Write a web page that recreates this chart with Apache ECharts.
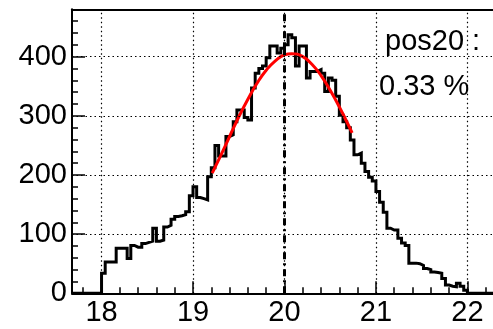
<!DOCTYPE html>
<html><head><meta charset="utf-8">
<script src="https://cdn.jsdelivr.net/npm/echarts@6/dist/echarts.min.js"></script>
<style>html,body{margin:0;padding:0;background:#fff}#c{width:493px;height:329px}</style>
</head><body><div id="c"></div>
<script>
// ---- data ----
const binStart = 18.0;
const binWidth = 0.04;
const counts = [
  34, 53, 53, 53, 76, 76, 76, 59, 81, 78,
  78, 84, 86, 88, 110, 88, 90, 112, 115, 125,
  130, 131, 133, 138, 165, 180, 162, 160, 158, 197,
  212, 250, 232, 232, 265, 268, 290, 310, 310, 297,
  293, 347, 372, 380, 384, 398, 418, 418, 406, 414,
  420, 437, 432, 384, 418, 418, 364, 375, 375, 378,
  372, 341, 364, 360, 333, 301, 290, 280, 259, 234,
  237, 220, 206, 196, 190, 172, 154, 137, 110, 107,
  107, 93, 85, 81, 51, 51, 50, 47, 42, 40,
  36, 35, 34, 25, 14, 12, 11, 17, 12, 5
];
const fitX = [19.21, 19.3, 19.4, 19.5, 19.6, 19.7, 19.8, 19.9, 20.0, 20.08, 20.2, 20.3, 20.4, 20.5, 20.6, 20.7, 20.74];
const fitY = [203, 232, 265, 298, 328, 355, 377, 393, 403, 405, 400, 387, 368, 343, 315, 284, 271];
const xTickLabels = [18, 19, 20, 21, 22];
const yTickLabels = [0, 100, 200, 300, 400];
const markerX = 20.0;
const noteLines = ['pos20 :', '0.33 %'];

// ---- axes ranges ----
const xMin = 17.677, xMax = 22.28;
const yMin = 0, yMax = 480;
const FONT = '"Liberation Sans", Arial, Helvetica, sans-serif';

const minorX = [];
for (let v = 17.8; v < xMax; v += 0.2) minorX.push(+v.toFixed(2));
const minorY = [];
for (let v = 0; v < yMax; v += 20) minorY.push(v);

const histData = [[xMin, 0]];
counts.forEach((c, i) => histData.push([+(binStart + i * binWidth).toFixed(3), c]));
histData.push([+(binStart + counts.length * binWidth).toFixed(3), 0]);
histData.push([xMax, 0]);

const fitData = fitX.map((x, i) => [x, fitY[i]]);

const gridLines = xTickLabels.map(v => ({ xAxis: v }))
  .concat(yTickLabels.filter(v => v > 0).map(v => ({ yAxis: v })));

const chart = echarts.init(document.getElementById('c'), null, { renderer: 'canvas' });
chart.setOption({
  animation: false,
  backgroundColor: '#fff',
  grid: { left: 72, right: -2, top: 9.3, bottom: 35.7, containLabel: false },
  xAxis: [
    {
      type: 'value', min: xMin, max: xMax, position: 'bottom',
      axisLine: { show: true, lineStyle: { color: '#000', width: 2 } },
      axisTick: { show: true, inside: true, length: 12, customValues: xTickLabels, lineStyle: { color: '#000', width: 1.5 } },
      axisLabel: { show: true, customValues: xTickLabels, fontSize: 29, fontFamily: FONT, color: '#000', margin: 5 },
      splitLine: { show: false }
    },
    {
      type: 'value', min: xMin, max: xMax, position: 'bottom',
      axisLine: { show: false },
      axisTick: { show: true, inside: true, length: 6, customValues: minorX, lineStyle: { color: '#000', width: 1.5 } },
      axisLabel: { show: false },
      splitLine: { show: false }
    },
    {
      type: 'value', min: xMin, max: xMax, position: 'top',
      axisLine: { show: true, lineStyle: { color: '#000', width: 2 } },
      axisTick: { show: false }, axisLabel: { show: false }, splitLine: { show: false }
    }
  ],
  yAxis: [
    {
      type: 'value', min: yMin, max: yMax, position: 'left',
      axisLine: { show: true, lineStyle: { color: '#000', width: 2 } },
      axisTick: { show: true, inside: true, length: 13, customValues: yTickLabels, lineStyle: { color: '#000', width: 1.5 } },
      axisLabel: { show: true, customValues: yTickLabels, fontSize: 29, fontFamily: FONT, color: '#000', margin: 5 },
      splitLine: { show: false }
    },
    {
      type: 'value', min: yMin, max: yMax, position: 'left',
      axisLine: { show: false },
      axisTick: { show: true, inside: true, length: 6, customValues: minorY, lineStyle: { color: '#000', width: 1.5 } },
      axisLabel: { show: false }, splitLine: { show: false }
    }
  ],
  series: [
    {
      type: 'line', xAxisIndex: 0, yAxisIndex: 0, z: 1, silent: true,
      data: [[xMin, 0]], showSymbol: false, symbol: 'none', lineStyle: { opacity: 0 },
      markLine: {
        silent: true, symbol: 'none', label: { show: false }, animation: false,
        lineStyle: { color: '#000', width: 1.2, type: [1.5, 3] },
        data: gridLines
      }
    },
    {
      type: 'line', xAxisIndex: 0, yAxisIndex: 0, z: 3, silent: true,
      step: 'end', data: histData, showSymbol: false, symbol: 'none',
      lineStyle: { color: '#000', width: 3, join: 'miter' }
    },
    {
      type: 'line', xAxisIndex: 0, yAxisIndex: 0, z: 4, silent: true,
      data: fitData, smooth: true, showSymbol: false, symbol: 'none',
      lineStyle: { color: '#ff0000', width: 3 }
    },
    {
      type: 'line', xAxisIndex: 0, yAxisIndex: 0, z: 5, silent: true,
      data: [[markerX, 0]], showSymbol: false, symbol: 'none', lineStyle: { opacity: 0 },
      markLine: {
        silent: true, symbol: 'none', label: { show: false }, animation: false,
        lineStyle: { color: '#000', width: 3, type: [7, 4, 2, 4] },
        data: [{ xAxis: markerX }]
      }
    }
  ],
  graphic: [
    { type: 'text', left: 385, top: 27, z: 10, style: { text: noteLines[0], font: '29px ' + FONT, fill: '#000' } },
    { type: 'text', left: 379, top: 72, z: 10, style: { text: noteLines[1], font: '29px ' + FONT, fill: '#000' } }
  ]
});
</script>
</body></html>
